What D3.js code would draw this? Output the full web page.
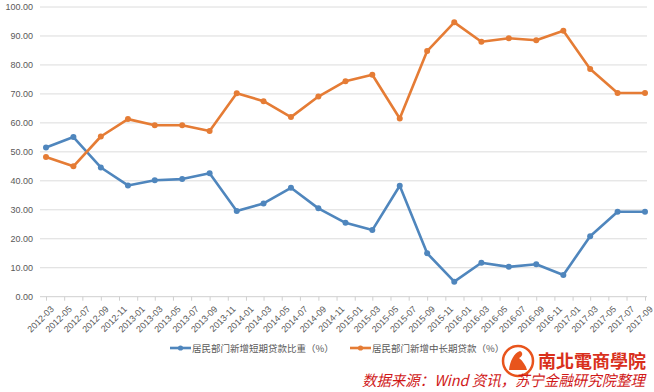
<!DOCTYPE html>
<html>
<head>
<meta charset="utf-8">
<script src="https://cdn.jsdelivr.net/npm/d3@7"></script>
<style>
  body { margin: 0; background: #fff; }
  svg { display: block; font-family: "Microsoft YaHei", "Noto Sans CJK SC", sans-serif; }
</style>
</head>
<body>
<svg id="viz"></svg>
<script>
const WIDTH = 654
const HEIGHT = 392
const MARGIN = { top: 7, right: 9, bottom: 95, left: 46 }

const COLOR_SHORT = '#4f86bd'
const COLOR_LONG = '#e57c35'
const TEXT_COLOR = '#595959'

// quarterly observations
const dates = [
    '2012-03', '2012-06', '2012-09', '2012-12',
    '2013-03', '2013-06', '2013-09', '2013-12',
    '2014-03', '2014-06', '2014-09', '2014-12',
    '2015-03', '2015-06', '2015-09', '2015-12',
    '2016-03', '2016-06', '2016-09', '2016-12',
    '2017-03', '2017-06', '2017-09'
]
const shortTerm = [
    51.5, 55.1, 44.6, 38.4, 40.2, 40.6, 42.6, 29.6,
    32.2, 37.6, 30.5, 25.5, 23.0, 38.3, 15.0, 5.2,
    11.7, 10.3, 11.2, 7.5, 20.9, 29.3, 29.3
]
const longTerm = [
    48.2, 45.0, 55.3, 61.3, 59.2, 59.2, 57.2, 70.2,
    67.5, 62.0, 69.1, 74.4, 76.6, 61.5, 84.8, 94.7,
    88.0, 89.2, 88.5, 91.8, 78.6, 70.3, 70.3
]
const seriesNames = ['居民部门新增短期贷款比重（%）', '居民部门新增中长期贷款（%）']
const yTicks = [0, 10, 20, 30, 40, 50, 60, 70, 80, 90, 100]
const sourceText = '数据来源：Wind 资讯，苏宁金融研究院整理'
const logoText = '南北電商學院'

const parse = d3.timeParse('%Y-%m')
const fmt = d3.timeFormat('%Y-%m')
const parsedDates = dates.map(parse)

const series = [
    { name: seriesNames[0], color: COLOR_SHORT, values: shortTerm },
    { name: seriesNames[1], color: COLOR_LONG, values: longTerm }
]

const svg = d3.select('#viz').attr('width', WIDTH).attr('height', HEIGHT)

const x = d3.scaleTime()
    .domain([parsedDates[0], parsedDates[parsedDates.length - 1]])
    .range([MARGIN.left, WIDTH - MARGIN.right])

const y = d3.scaleLinear()
    .domain([0, 100])
    .range([HEIGHT - MARGIN.bottom - 0.3, MARGIN.top])

// grid lines + y labels
const yAxis = svg.append('g')
    .attr('transform', `translate(${MARGIN.left - 6},0)`)
    .call(d3.axisLeft(y).tickValues(yTicks).tickFormat(d3.format('.2f')).tickSize(0).tickPadding(7))
yAxis.select('.domain').remove()
yAxis.selectAll('text')
    .attr('fill', TEXT_COLOR)
    .style('font-size', '9px')
    .style('font-family', 'Arial, "Liberation Sans", sans-serif')

svg.append('g')
    .selectAll('line')
    .data(yTicks.filter(d => d > 0))
    .enter().append('line')
        .attr('x1', MARGIN.left - 6)
        .attr('x2', WIDTH - MARGIN.right + 2)
        .attr('y1', d => y(d))
        .attr('y2', d => y(d))
        .attr('stroke', '#dcdcdc')
        .attr('stroke-width', 1)

// x axis, labels every two months
const xTicks = d3.timeMonth.range(parsedDates[0], d3.timeMonth.offset(parsedDates[parsedDates.length - 1], 1), 2)
const xAxis = svg.append('g')
    .attr('transform', `translate(0,${y(0)})`)
    .call(d3.axisBottom(x).tickValues(xTicks).tickFormat(fmt).tickSizeOuter(0).tickSize(4))
xAxis.select('.domain')
    .attr('stroke', '#cfcfcf')
    .attr('d', `M${MARGIN.left - 6},0H${WIDTH - MARGIN.right + 2}`)
xAxis.selectAll('.tick line').attr('stroke', '#cfcfcf')
xAxis.selectAll('text')
    .attr('fill', TEXT_COLOR)
    .style('font-size', '9px')
    .style('font-family', 'Arial, "Liberation Sans", sans-serif')
    .attr('text-anchor', 'end')
    .attr('dx', 0)
    .attr('dy', 0)
    .attr('transform', 'translate(3,8) rotate(-45)')

// lines + markers
const line = d3.line()
    .x((d, i) => x(parsedDates[i]))
    .y(d => y(d))

series.forEach(s => {
    svg.append('path')
        .datum(s.values)
        .attr('d', line)
        .attr('fill', 'none')
        .attr('stroke', s.color)
        .attr('stroke-width', 2.6)
        .attr('stroke-linejoin', 'round')

    svg.append('g')
        .selectAll('circle')
        .data(s.values)
        .enter().append('circle')
            .attr('cx', (d, i) => x(parsedDates[i]))
            .attr('cy', d => y(d))
            .attr('r', 3)
            .attr('fill', s.color)
})

// legend
const LEGEND_X = [170, 350]
const legend = svg.append('g')
    .selectAll('g')
    .data(series)
    .enter().append('g')
        .attr('transform', (d, i) => `translate(${LEGEND_X[i]},348)`)

legend.append('line')
    .attr('x1', 0).attr('x2', 21)
    .attr('stroke', d => d.color)
    .attr('stroke-width', 2.6)
legend.append('circle')
    .attr('cx', 10.5).attr('r', 2.6)
    .attr('fill', d => d.color)
legend.append('text')
    .attr('x', 22)
    .attr('y', 3.5)
    .attr('fill', TEXT_COLOR)
    .style('font-size', '9.5px')
    .text(d => d.name)

// watermark logo
const logo = svg.append('g').attr('transform', 'translate(518,361)')
logo.append('circle')
    .attr('r', 15)
    .attr('fill', 'none')
    .attr('stroke', '#e8541c')
    .attr('stroke-width', 2.5)
logo.append('path')
    .attr('d', 'M-9,9 C-8,0 -4,-8 2,-10 C6,-8 4,-4 1,-3 C5,0 8,5 9,9 Z')
    .attr('fill', '#e8541c')
svg.append('text')
    .attr('x', 538)
    .attr('y', 368)
    .attr('fill', '#d9301c')
    .style('font-size', '18px')
    .style('font-weight', 'bold')
    .style('font-family', '"Noto Sans CJK TC", "Noto Sans CJK SC", sans-serif')
    .text(logoText)

// source note
svg.append('text')
    .attr('x', 362)
    .attr('y', 386)
    .attr('fill', '#d01818')
    .attr('textLength', 283)
    .attr('lengthAdjust', 'spacingAndGlyphs')
    .style('font-size', '15px')
    .style('font-style', 'italic')
    .text(sourceText)
</script>
</body>
</html>
